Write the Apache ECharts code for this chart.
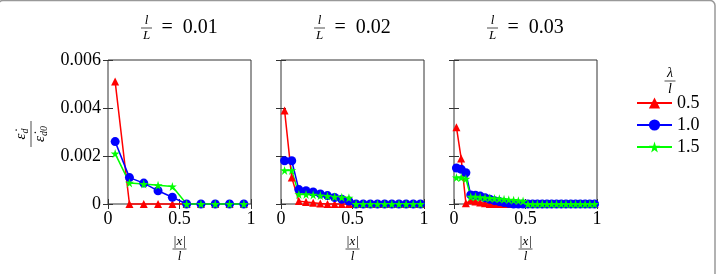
<!DOCTYPE html>
<html>
<head>
<meta charset="utf-8">
<script src="https://cdn.jsdelivr.net/npm/echarts@6/dist/echarts.min.js"></script>
<style>
  html, body { margin: 0; padding: 0; background: #fff; }
  #chart { width: 721px; height: 274px; }
</style>
</head>
<body>
<div id="chart"></div>
<script>
// l/L of each panel
const panelRatios = ['0.01', '0.02', '0.03'];
// lambda/l of each curve
const seriesNames = ['0.5', '1.0', '1.5'];

// panel 1 (l/L = 0.01)
const x1 = [0.05, 0.15, 0.25, 0.35, 0.45, 0.55, 0.65, 0.75, 0.85, 0.95];
const red1 = [0.0051, 0, 0, 0, 0, 0, 0, 0, 0, 0];
const blue1 = [0.0026, 0.0011, 0.00087, 0.00055, 0.00028, 0, 0, 0, 0, 0];
const green1 = [0.0021, 0.00088, 0.00083, 0.00078, 0.00073, 0, 0, 0, 0, 0];

// panel 2 (l/L = 0.02)
const x2 = [0.025, 0.075, 0.125, 0.175, 0.225, 0.275, 0.325, 0.375, 0.425, 0.475,
            0.525, 0.575, 0.625, 0.675, 0.725, 0.775, 0.825, 0.875, 0.925, 0.975];
const red2 = [0.0039, 0.0011, 0.00012, 0.00008, 0.00005, 0.00002, 0, 0, 0, 0,
              0, 0, 0, 0, 0, 0, 0, 0, 0, 0];
const blue2 = [0.0018, 0.0018, 0.0006, 0.00055, 0.0005, 0.00042, 0.00035, 0.00027, 0.0002, 0.00012,
               0, 0, 0, 0, 0, 0, 0, 0, 0, 0];
const green2 = [0.0014, 0.0014, 0.0004, 0.0004, 0.00038, 0.00035, 0.00033, 0.0003, 0.00028, 0.00026,
                0, 0, 0, 0, 0, 0, 0, 0, 0, 0];

// panel 3 (l/L = 0.03)
const x3 = [0.017, 0.05, 0.083, 0.117, 0.15, 0.183, 0.217, 0.25, 0.283, 0.317,
            0.35, 0.383, 0.417, 0.45, 0.483, 0.517, 0.55, 0.583, 0.617, 0.65,
            0.683, 0.717, 0.75, 0.783, 0.817, 0.85, 0.883, 0.917, 0.95, 0.983];
const red3 = [0.0032, 0.0019, 0.00003, 0.00015, 0.0001, 0.00006, 0.00003, 0, 0, 0,
              0, 0, 0, 0, 0, 0, 0, 0, 0, 0, 0, 0, 0, 0, 0, 0, 0, 0, 0, 0];
const blue3 = [0.0015, 0.00145, 0.0013, 0.00038, 0.00036, 0.00033, 0.00026, 0.0002, 0.00014, 0.0001,
               0.00006, 0.00003, 0, 0, 0, 0, 0, 0, 0, 0, 0, 0, 0, 0, 0, 0, 0, 0, 0, 0];
const green3 = [0.0011, 0.0011, 0.00105, 0.0003, 0.0003, 0.00028, 0.00026, 0.00025, 0.00023, 0.00022,
                0.0002, 0.00018, 0.00016, 0.00014, 0.00012, 0, 0, 0, 0, 0, 0, 0, 0, 0, 0, 0, 0, 0, 0, 0];

const panels = [
  { x: x1, ys: [red1, blue1, green1] },
  { x: x2, ys: [red2, blue2, green2] },
  { x: x3, ys: [red3, blue3, green3] },
];

const SERIF = 'Liberation Serif';
const colors = ['#ff0000', '#0000ff', '#00ff00'];
const star = 'path://M50,0 L61,35 L98,35 L68,57 L79,91 L50,70 L21,91 L32,57 L2,35 L39,35 Z';
const symbols = ['triangle', 'circle', star];
const symbolSizes = [8, 9, 9];

const gridLefts = [108, 281, 454];
const gridW = 143, gridTop = 60, gridH = 144;
const axisColor = '#333';

const grid = [], xAxis = [], yAxis = [], series = [];
panels.forEach((p, i) => {
  grid.push({
    left: gridLefts[i], top: gridTop, width: gridW, height: gridH,
    show: true, borderColor: axisColor, borderWidth: 1, backgroundColor: 'transparent'
  });
  // bottom + top x axes
  xAxis.push({
    type: 'value', gridIndex: i, min: 0, max: 1, interval: 0.5, position: 'bottom',
    axisLine: { show: false },
    axisTick: { show: true, inside: true, length: 5, lineStyle: { color: axisColor } },
    axisLabel: { color: '#000', fontFamily: SERIF, fontSize: 18, margin: 6 },
    splitLine: { show: false }
  });
  xAxis.push({
    type: 'value', gridIndex: i, min: 0, max: 1, interval: 0.5, position: 'top',
    axisLine: { show: false },
    axisTick: { show: true, inside: true, length: 5, lineStyle: { color: axisColor } },
    axisLabel: { show: false }, splitLine: { show: false }
  });
  yAxis.push({
    type: 'value', gridIndex: i, min: 0, max: 0.006, interval: 0.002, position: 'left',
    axisLine: { show: false },
    axisTick: { show: true, inside: true, length: 5, lineStyle: { color: axisColor } },
    axisLabel: { show: i === 0, color: '#000', fontFamily: SERIF, fontSize: 18, margin: 7 },
    splitLine: { show: false }
  });
  yAxis.push({
    type: 'value', gridIndex: i, min: 0, max: 0.006, interval: 0.002, position: 'right',
    axisLine: { show: false },
    axisTick: { show: true, inside: true, length: 5, lineStyle: { color: axisColor } },
    axisLabel: { show: false }, splitLine: { show: false }
  });
  p.ys.forEach((vals, k) => {
    series.push({
      name: seriesNames[k],
      type: 'line',
      xAxisIndex: i * 2,
      yAxisIndex: i * 2,
      data: p.x.map((x, j) => [x, vals[j]]),
      symbol: symbols[k],
      symbolSize: symbolSizes[k],
      showAllSymbol: true,
      clip: false,
      color: colors[k],
      lineStyle: { color: colors[k], width: 1.5 },
      itemStyle: { color: colors[k] },
      emphasis: { disabled: true },
      animation: false
    });
  });
});

// stacked fraction drawn with graphic elements
function frac(cx, cy, num, den, size, w, rot) {
  const font = { fontFamily: SERIF, fontSize: size, fontStyle: 'italic', fill: '#000' };
  return {
    type: 'group', x: cx, y: cy, rotation: rot || 0,
    children: [
      { type: 'text', style: Object.assign({ text: num, x: 0, y: -1, align: 'center', verticalAlign: 'bottom' }, font) },
      { type: 'line', shape: { x1: -w / 2, y1: 0, x2: w / 2, y2: 0 }, style: { stroke: '#000', lineWidth: 0.7 } },
      { type: 'text', style: Object.assign({ text: den, x: 0, y: 1, align: 'center', verticalAlign: 'top' }, font) }
    ]
  };
}

const yRich = {
  e: { fontFamily: SERIF, fontSize: 15, fontStyle: 'italic' },
  s: { fontFamily: SERIF, fontSize: 10, fontStyle: 'italic', verticalAlign: 'bottom', padding: [7, 0, 0, 0] }
};

const graphic = [
  // outer frame of the figure
  { type: 'rect', shape: { x: -2, y: 0.5, width: 717, height: 290, r: 5 },
    style: { fill: 'none', stroke: '#999', lineWidth: 1.5 } },
  // legend title lambda / l
  frac(670, 81, 'λ', 'l', 14, 11),
  // y axis label
  {
    type: 'group', x: 31, y: 134, rotation: Math.PI / 2,
    children: [
      { type: 'text', style: { text: '{e|ε̇}{s|d}', x: 0, y: -1, align: 'center', verticalAlign: 'bottom', rich: yRich } },
      { type: 'line', shape: { x1: -13, y1: 0, x2: 13, y2: 0 }, style: { stroke: '#000', lineWidth: 0.7 } },
      { type: 'text', style: { text: '{e|ε̇}{s|d0}', x: 0, y: 1, align: 'center', verticalAlign: 'top', rich: yRich } }
    ]
  }
];

gridLefts.forEach((left, i) => {
  const cx = left + gridW / 2;
  // panel title  l/L = ...
  graphic.push(frac(cx - 33, 28, 'l', 'L', 13, 11));
  graphic.push({ type: 'text', style: { text: '=  ' + panelRatios[i], x: cx - 18, y: 28,
    align: 'left', verticalAlign: 'middle', fontFamily: SERIF, fontSize: 20, fill: '#000' } });
  // x axis label |x| / l
  graphic.push(frac(cx, 249, '|x|', 'l', 13, 14));
});

const chart = echarts.init(document.getElementById('chart'));
chart.setOption({
  animation: false,
  backgroundColor: '#fff',
  grid, xAxis, yAxis, series, graphic,
  legend: {
    data: seriesNames,
    orient: 'vertical',
    left: 636, top: 94, padding: 0,
    itemWidth: 35, itemHeight: 14, itemGap: 4,
    textStyle: { fontFamily: SERIF, fontSize: 18, color: '#000' },
    selectedMode: false
  }
});
</script>
</body>
</html>
